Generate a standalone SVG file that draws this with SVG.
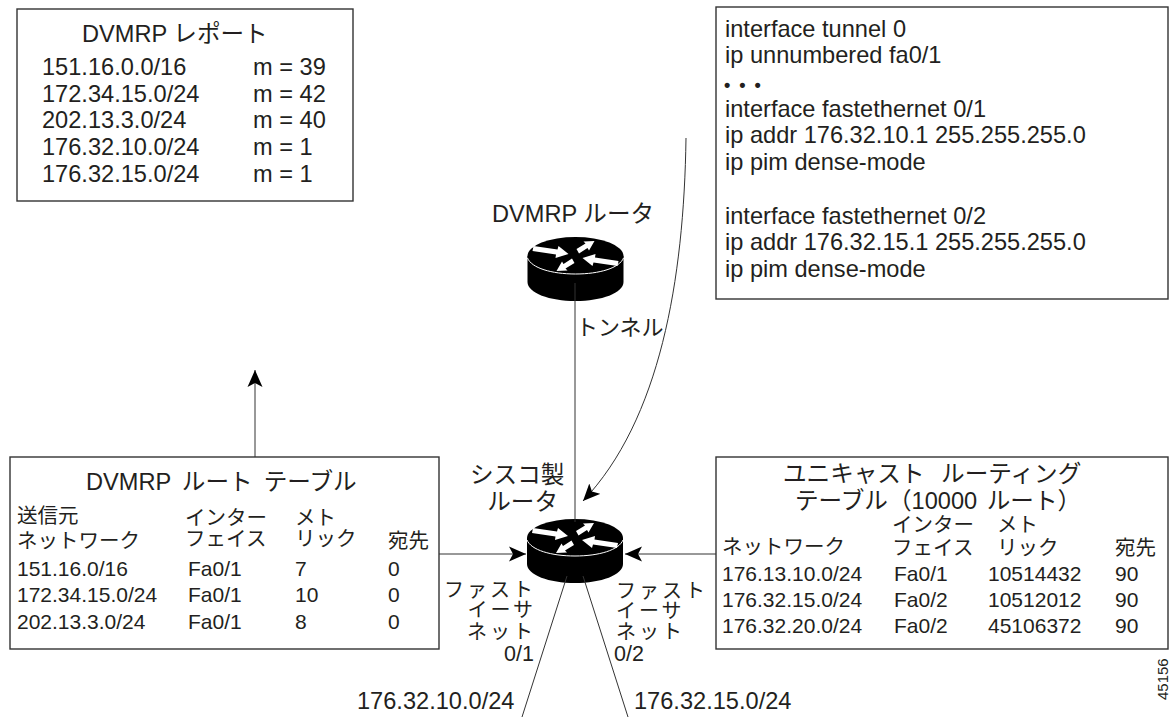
<svg xmlns="http://www.w3.org/2000/svg" width="1175" height="717" viewBox="0 0 1175 717">
<style>
text{font-family:"Liberation Sans","Noto Sans CJK JP",sans-serif;fill:#231f20;font-size:23.6px}
.t{font-size:21px}
.j{font-size:20.5px}
.k{font-size:20px;letter-spacing:3px}
.p{font-size:21.5px}
.b{fill:#fff;stroke:#333;stroke-width:1.4}
.c{fill:none;stroke:#333;stroke-width:1}
.e{text-anchor:end}
</style>
<defs>
<marker id="ah" markerUnits="userSpaceOnUse" markerWidth="20" markerHeight="18" refX="17" refY="8" orient="auto"><path d="M0,0.500 L17,8 L0,15.500 L4,8 Z" fill="#000"/></marker>
<g id="router">
<path d="M-48,0 V26 C-48,37 -26,45 0,45 C26,45 48,37 48,26 V0 Z" fill="#000"/>
<ellipse cx="0" cy="0" rx="48" ry="19" fill="#000"/>
<path d="M-48,2 C-44,12 -24,18 0,18 C24,18 44,12 48,2" fill="none" stroke="#fff" stroke-width="1"/>
<path fill="#fff" d="M-42,-10 L-18,-6.500 L-17,-10 L-7,-2 L-20,2 L-19.500,-1.500 L-43,-5 Z"/>
<path fill="#fff" d="M42,10 L18,6.500 L17,10 L7,2 L20,-2 L19.500,1.500 L43,5 Z"/>
<path fill="#fff" d="M3.500,-2.500 L12,-8 L13.500,-5.500 L19,-15 L8,-14.500 L10,-12.500 L1,-7 Z"/>
<path fill="#fff" d="M-3.500,2.500 L-12,8 L-13.500,5.500 L-19,15 L-8,14.500 L-10,12.500 L-1,7 Z"/>
</g>
</defs>
<g id="dvmrp-report">
<rect class="b" x="17" y="9" width="336" height="192"/>
<text x="82" y="42">DVMRP レポート</text>
<text x="42" y="75">151.16.0.0/16</text><text x="253" y="75">m = 39</text>
<text x="42" y="102">172.34.15.0/24</text><text x="253" y="102">m = 42</text>
<text x="42" y="128">202.13.3.0/24</text><text x="253" y="128">m = 40</text>
<text x="42" y="155">176.32.10.0/24</text><text x="253" y="155">m = 1</text>
<text x="42" y="182">176.32.15.0/24</text><text x="253" y="182">m = 1</text>
</g>
<g id="config">
<rect class="b" x="716" y="7" width="452" height="292"/>
<text x="725" y="37">interface tunnel 0</text>
<text x="725" y="63">ip unnumbered fa0/1</text>
<text x="724" y="91" font-weight="bold" style="font-size:18px" letter-spacing="2">• • •</text>
<text x="725" y="117">interface fastethernet 0/1</text>
<text x="725" y="143">ip addr 176.32.10.1 255.255.255.0</text>
<text x="725" y="170">ip pim dense-mode</text>
<text x="725" y="224">interface fastethernet 0/2</text>
<text x="725" y="250">ip addr 176.32.15.1 255.255.255.0</text>
<text x="725" y="277">ip pim dense-mode</text>
</g>
<g id="dvmrp-router">
<use href="#router" x="575.500" y="256"/>
<text x="492" y="222">DVMRP ルータ</text>
<text x="576" y="335" style="font-size:22px">トンネル</text>
</g>
<g id="cisco-router">
<use href="#router" x="575" y="538"/>
<text x="470" y="483">シスコ製</text>
<text x="558" y="510" class="e">ルータ</text>
<text x="536" y="597" class="k e">ファスト</text>
<text x="536" y="617" class="k e">イーサ</text>
<text x="536" y="639" class="k e">ネット</text>
<text x="534" y="661" class="p e">0/1</text>
<text x="616" y="598" class="k">ファスト</text>
<text x="616" y="618" class="k">イーサ</text>
<text x="616" y="639" class="k">ネット</text>
<text x="614" y="661" class="p">0/2</text>
</g>
<g id="dvmrp-table">
<rect class="b" x="10" y="457" width="429" height="192"/>
<text x="86" y="490" word-spacing="4.500">DVMRP ルート テーブル</text>
<text x="17" y="523" class="j">送信元</text>
<text x="17" y="548" class="j">ネットワーク</text>
<text x="185" y="525" class="j">インター</text>
<text x="185" y="546" class="j">フェイス</text>
<text x="295" y="525" class="j">メト</text>
<text x="295" y="546" class="j">リック</text>
<text x="388" y="548" class="j">宛先</text>
<text x="17" y="576" class="t">151.16.0/16</text><text x="188" y="576" class="t">Fa0/1</text><text x="295" y="576" class="t">7</text><text x="388" y="576" class="t">0</text>
<text x="17" y="602" class="t">172.34.15.0/24</text><text x="188" y="602" class="t">Fa0/1</text><text x="295" y="602" class="t">10</text><text x="388" y="602" class="t">0</text>
<text x="17" y="629" class="t">202.13.3.0/24</text><text x="188" y="629" class="t">Fa0/1</text><text x="295" y="629" class="t">8</text><text x="388" y="629" class="t">0</text>
</g>
<g id="unicast-table">
<rect class="b" x="716" y="457" width="452" height="192"/>
<text x="783" y="482" word-spacing="10">ユニキャスト ルーティング</text>
<text x="795" y="509" word-spacing="3">テーブル（10000 ルート）</text>
<text x="722" y="554" class="j">ネットワーク</text>
<text x="892" y="532" class="j">インター</text>
<text x="892" y="555" class="j">フェイス</text>
<text x="997" y="532" class="j">メト</text>
<text x="997" y="555" class="j">リック</text>
<text x="1115" y="555" class="j">宛先</text>
<text x="722" y="581" class="t">176.13.10.0/24</text><text x="894" y="581" class="t">Fa0/1</text><text x="988" y="581" class="t">10514432</text><text x="1115" y="581" class="t">90</text>
<text x="722" y="607" class="t">176.32.15.0/24</text><text x="894" y="607" class="t">Fa0/2</text><text x="988" y="607" class="t">10512012</text><text x="1115" y="607" class="t">90</text>
<text x="722" y="633" class="t">176.32.20.0/24</text><text x="894" y="633" class="t">Fa0/2</text><text x="988" y="633" class="t">45106372</text><text x="1115" y="633" class="t">90</text>
</g>
<g id="connectors">
<path class="c" d="M575,283 V522"/>
<path class="c" d="M686,138 C684,280 660,420 583,501" marker-end="url(#ah)"/>
<path class="c" d="M255,457 V370" marker-end="url(#ah)"/>
<path class="c" d="M439,554 H526" marker-end="url(#ah)"/>
<path class="c" d="M716,554 H625" marker-end="url(#ah)"/>
<path class="c" d="M567,576 L522,717"/>
<path class="c" d="M583,576 L628,717"/>
</g>
<g id="subnet-labels">
<text x="357" y="709">176.32.10.0/24</text>
<text x="634" y="709">176.32.15.0/24</text>
<text transform="translate(1168,700) rotate(-90)" style="font-size:15px">45156</text>
</g>
</svg>
